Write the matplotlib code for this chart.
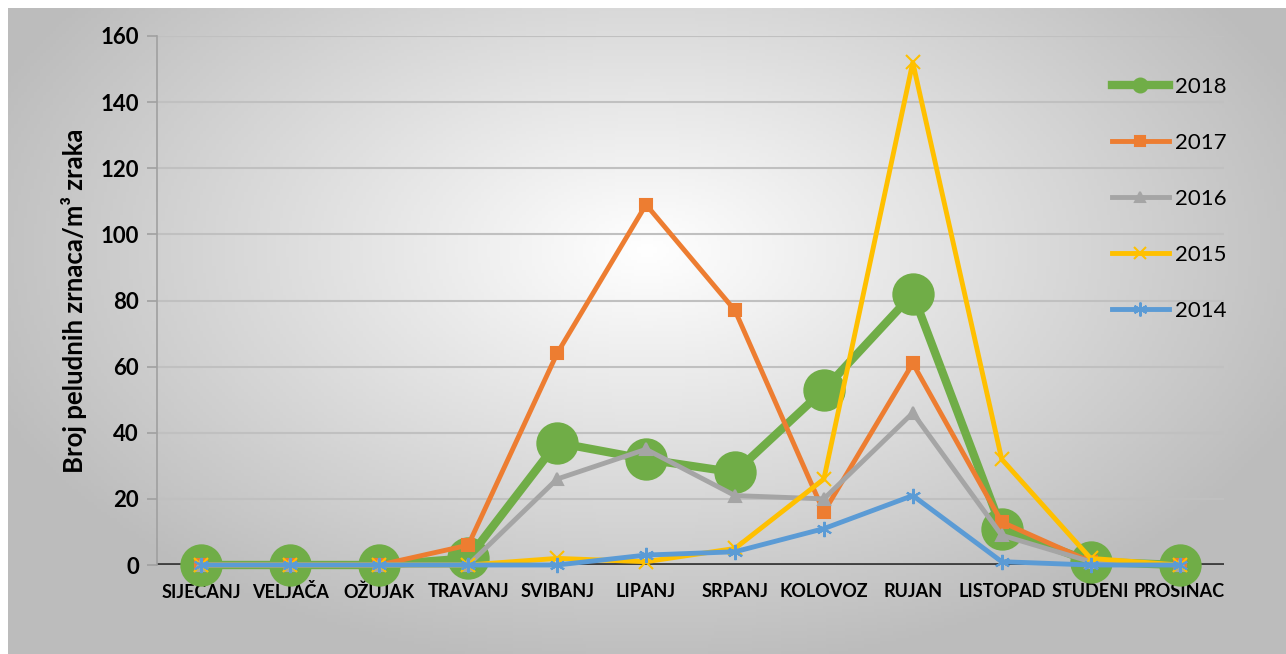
import numpy as np
import matplotlib.pyplot as plt

# podaci: broj peludnih zrnaca po mjesecima
months = ["SIJEČANJ", "VELJAČA", "OŽUJAK", "TRAVANJ", "SVIBANJ", "LIPANJ",
          "SRPANJ", "KOLOVOZ", "RUJAN", "LISTOPAD", "STUDENI", "PROSINAC"]
y2018 = [0, 0, 0, 2, 37, 32, 28, 53, 82, 11, 1, 0]
y2017 = [0, 0, 0, 6, 64, 109, 77, 16, 61, 13, 1, 0]
y2016 = [0, 0, 0, 0, 26, 35, 21, 20, 46, 9, 1, 0]
y2015 = [0, 0, 0, 0, 2, 1, 5, 26, 152, 32, 2, 0]
y2014 = [0, 0, 0, 0, 0, 3, 4, 11, 21, 1, 0, 0]
yticks = [0, 20, 40, 60, 80, 100, 120, 140, 160]

plt.rcParams['font.family'] = ['Lato', 'DejaVu Sans']

fig = plt.figure(figsize=(12.86, 6.54), dpi=100)

# pozadina s radijalnim gradijentom
bg = fig.add_axes([8/1286, 0, 1 - 8/1286, (654 - 8)/654], zorder=-10)
gx, gy = np.meshgrid(np.linspace(-1, 1, 400), np.linspace(-1, 1, 200))
r = np.sqrt(((gx - 0.0) / 1.1) ** 2 + ((gy + 0.25) / 1.3) ** 2)
shade = 1.0 - 0.26 * np.clip(r, 0, 1.3) / 1.0
shade = np.clip(shade, 0.74, 1.0)
bg.imshow(np.dstack([shade] * 3), aspect='auto', extent=[0, 1, 0, 1], origin='upper')
bg.set_axis_off()

ax = fig.add_axes([157/1286, 89/654, (1224 - 157)/1286, 529/654])
ax.patch.set_alpha(0)
x = np.arange(len(months))

# label, vrijednosti, boja, marker, debljina, velicina markera, velicina u legendi
series = [
    ("2018", y2018, '#70AD47', 'o', 6, 29, 10),
    ("2017", y2017, '#ED7D31', 's', 3.5, 9, 7),
    ("2016", y2016, '#A5A5A5', '^', 3.5, 9, 7.5),
    ("2015", y2015, '#FFC000', 'x', 3.5, 10, 9),
    ("2014", y2014, '#5B9BD5', (6, 2, 0), 3.5, 11, 10),
]
for i, (label, vals, col, mk, lw, ms, lms) in enumerate(series):
    ax.plot(x, vals, color=col, lw=lw, marker=mk, markersize=ms,
            markeredgecolor=col, markerfacecolor=col, markeredgewidth=1.5,
            label=label, zorder=i + 3, clip_on=False)

ax.set_xlim(-0.5, 11.5)
ax.set_ylim(0, 160)
ax.set_yticks(yticks)
ax.set_yticklabels([str(v) for v in yticks], fontsize=16, fontweight='bold')
ax.set_xticks(x)
ax.set_xticklabels(months, fontsize=13, fontweight='bold')
ax.tick_params(axis='x', length=0, pad=13)
ax.tick_params(axis='y', length=7, color='#a0a0a0', width=1.2, pad=6)

for v in yticks[1:]:
    ax.axhline(v, color='#c0c0c0', lw=1.5, zorder=0)
ax.axhline(0, color='#404040', lw=3.5, zorder=1)

for s in ['top', 'right', 'bottom']:
    ax.spines[s].set_visible(False)
ax.spines['left'].set_color('#a0a0a0')
ax.spines['left'].set_linewidth(1.2)

ax.set_ylabel("Broj peludnih zrnaca/m³ zraka", fontsize=18.5, fontweight='bold', labelpad=10)

leg = ax.legend(loc='upper left', bbox_to_anchor=(0.876, 0.96), frameon=False,
                fontsize=16, labelspacing=1.62, handlelength=2.56,
                handletextpad=0.3)
for h, s in zip(leg.legend_handles, series):
    h.set_markersize(s[6])
leg.set_zorder(20)

fig.savefig("out.png", dpi=100)
